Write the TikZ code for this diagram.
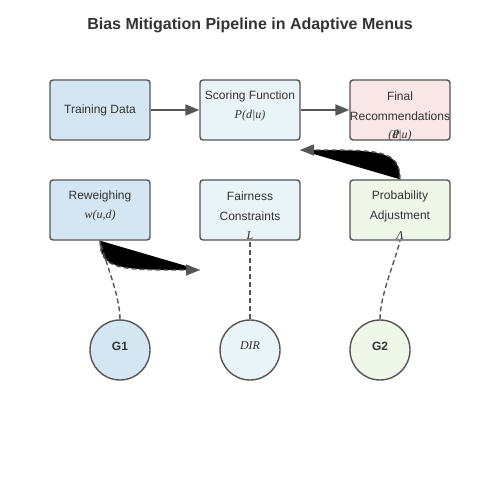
\documentclass[tikz,border=0pt]{standalone}
\usepackage{fontspec}
\setmainfont{Liberation Serif}
\setsansfont{Liberation Sans}
\usetikzlibrary{arrows.meta}
\definecolor{edge}{HTML}{555555}
\definecolor{txt}{HTML}{333333}
\definecolor{cblue}{HTML}{D4E6F1}
\definecolor{clight}{HTML}{E8F4F8}
\definecolor{cpink}{HTML}{F9E6E6}
\definecolor{cgreen}{HTML}{EEF7E8}
\tikzset{
  box/.style={draw=edge, line width=1.4pt, rounded corners=3pt, minimum width=100pt, minimum height=60pt, inner sep=0pt},
  circ/.style={draw=edge, line width=1.4pt, circle, minimum size=60pt, inner sep=0pt},
  lbl/.style={text=txt, font=\sffamily\fontsize{12}{14}\selectfont, inner sep=0pt},
  mth/.style={text=txt, font=\rmfamily\itshape\fontsize{12}{14}\selectfont, inner sep=0pt},
  flow/.style={draw=edge, line width=2pt, -{Triangle[length=14pt,width=11pt]}},
  dash line/.style={draw=edge, line width=1.4pt, dash pattern=on 5pt off 3pt},
  fb/.style={draw=edge, line width=1.4pt, dash pattern=on 5pt off 3pt, -{Triangle[length=14pt,width=11pt]}},
}
\begin{document}
\begin{tikzpicture}[x=1pt,y=-1pt]
\useasboundingbox[fill=white] (0,0) rectangle (500,500);
\node[text=txt, font=\sffamily\bfseries\fontsize{16}{18}\selectfont] (title) at (250,25) {Bias Mitigation Pipeline in Adaptive Menus};

\node[box, fill=cblue] (train) at (100,110) {};
\node[box, fill=clight] (score) at (250,110) {};
\node[box, fill=cpink] (final) at (400,110) {};
\node[box, fill=cblue] (rew) at (100,210) {};
\node[box, fill=clight] (fair) at (250,210) {};
\node[box, fill=cgreen] (adj) at (400,210) {};

\node[circ, fill=cblue] (g1) at (120,350) {};
\node[circ, fill=clight] (dir) at (250,350) {};
\node[circ, fill=cgreen] (g2) at (380,350) {};

% texts
\node[lbl] (t1) at (100,110) {Training Data};
\node[lbl] (t2) at (250,96) {Scoring Function};
\node[mth] (t3) at (250,116) {P(d|u)};
\node[lbl] (t4) at (400,96) {Final};
\node[lbl] (t5) at (400,116) {Recommendations};
\node[mth] (t6) at (400,136) {(\rlap{P}d|u)};
\node[lbl] (t7) at (100,196) {Reweighing};
\node[mth] (t8) at (100,216) {w(u,d)};
\node[lbl] (t9) at (250,196) {Fairness};
\node[lbl] (t10) at (250,216) {Constraints};
\node[mth] (t11) at (250,236) {L};
\node[lbl] (t12) at (400,196) {Probability};
\node[lbl] (t13) at (400,216) {Adjustment};
\node[mth] (t14) at (400,236) {\char"039B};
\node[text=txt, font=\sffamily\bfseries\fontsize{12}{14}\selectfont] (t15) at (120,346) {G1};
\node[mth] (t16) at (250,346) {DIR};
\node[text=txt, font=\sffamily\bfseries\fontsize{12}{14}\selectfont] (t17) at (380,346) {G2};

% main flow
\draw[flow] (train.east) -- (score.west);
\draw[flow] (score.east) -- (final.west);

% feedback arrows (filled artefacts)
\coordinate (fa) at (300,150);
\coordinate (fb) at (200,270);
\fill[black] (adj.north) .. controls (400,150) and (380,150) .. (fa) -- cycle;
\draw[fb] (adj.north) .. controls (400,150) and (380,150) .. (fa);
\fill[black] (rew.south) .. controls (100,270) and (120,270) .. (fb) -- cycle;
\draw[fb] (rew.south) .. controls (100,270) and (120,270) .. (fb);

% group links
\draw[dash line] (g1.north) .. controls (120,295) and (105,262) .. (rew.south);
\draw[dash line] (dir.north) -- (fair.south);
\draw[dash line] (g2.north) .. controls (380,295) and (395,262) .. (adj.south);
\end{tikzpicture}
\end{document}
